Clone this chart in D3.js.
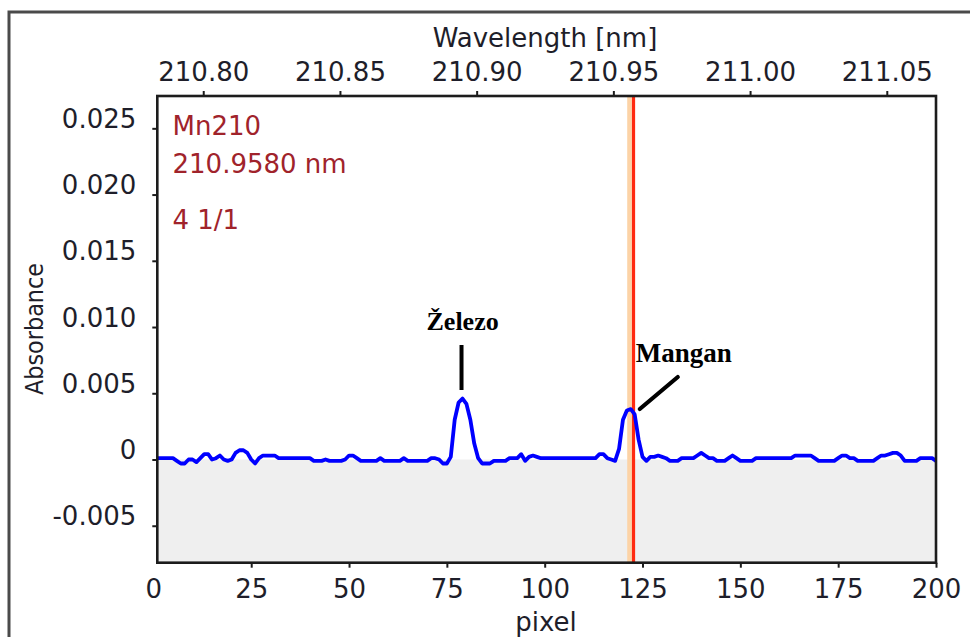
<!DOCTYPE html>
<html><head><meta charset="utf-8">
<script src="https://cdn.jsdelivr.net/npm/d3@7"></script>
<style>html,body{margin:0;padding:0;background:#fff;}svg{display:block;}</style>
</head><body>
<svg id="c" width="970" height="637"></svg>
<script>
// ---- data ----
const pixels = d3.range(1, 201);
const absorbance = [
 0.0001,0.0001,0.0001,0.0001,0.0001,-0.0001,-0.0003,-0.0003,0.0000,0.0000,
 -0.0002,0.0001,0.0004,0.0004,0.0000,0.0001,0.0003,0.0000,-0.0001,0.0000,
 0.0005,0.0007,0.0007,0.0005,0.0000,-0.0003,0.0001,0.0003,0.0003,0.0003,
 0.0003,0.0001,0.0001,0.0001,0.0001,0.0001,0.0001,0.0001,0.0001,0.0001,
 -0.0001,-0.0001,-0.0001,0.0000,-0.0001,-0.0001,-0.0001,-0.0001,0.0000,0.0003,
 0.0003,0.0001,-0.0001,-0.0001,-0.0001,-0.0001,-0.0001,0.0001,-0.0001,-0.0001,
 -0.0001,-0.0001,-0.0001,0.0001,-0.0001,-0.0001,-0.0001,-0.0001,-0.0001,-0.0001,
 0.0001,0.0001,0.0000,-0.0003,-0.0003,0.0002,0.0030,0.0043,0.0046,0.0042,
 0.0030,0.0012,0.0001,-0.0003,-0.0003,-0.0003,-0.0001,-0.0001,-0.0001,-0.0001,
 0.0001,0.0001,0.0001,0.0004,-0.0001,0.0002,0.0003,0.0002,0.0001,0.0001,
 0.0001,0.0001,0.0001,0.0001,0.0001,0.0001,0.0001,0.0001,0.0001,0.0001,
 0.0001,0.0001,0.0001,0.0004,0.0004,0.0001,0.0000,-0.0001,0.0008,0.0030,
 0.0037,0.0038,0.0034,0.0015,0.0002,-0.0001,0.0002,0.0002,0.0003,0.0002,
 0.0001,-0.0001,-0.0001,-0.0001,0.0001,0.0001,0.0001,0.0001,0.0003,0.0005,
 0.0003,0.0001,0.0001,-0.0001,-0.0001,-0.0001,0.0001,0.0003,0.0001,-0.0001,
 -0.0001,-0.0001,-0.0001,0.0001,0.0001,0.0001,0.0001,0.0001,0.0001,0.0001,
 0.0001,0.0001,0.0001,0.0003,0.0003,0.0003,0.0003,0.0003,0.0001,-0.0001,
 -0.0001,-0.0001,-0.0001,-0.0001,0.0001,0.0003,0.0003,0.0001,0.0001,-0.0001,
 -0.0001,-0.0001,-0.0001,-0.0001,0.0001,0.0003,0.0003,0.0004,0.0005,0.0005,
 0.0003,-0.0001,-0.0001,-0.0001,-0.0001,0.0001,0.0001,0.0001,0.0001,-0.0001
];
const pixelTicks = [0, 25, 50, 75, 100, 125, 150, 175, 200];
const wavelengthTicks = [210.80, 210.85, 210.90, 210.95, 211.00, 211.05];
const absorbanceTicks = [-0.005, 0, 0.005, 0.010, 0.015, 0.020, 0.025];
const infoLines = ["Mn210", "210.9580 nm", "4 1/1"];
const markerPixel = 122.7;
const peakLabels = [{text: "Železo", pixel: 79}, {text: "Mangan", pixel: 122}];

// ---- layout ----
const L = 157.3, R = 936, T = 96, B = 562.7;
const svg = d3.select("#c");
const x = d3.scaleLinear().domain([1, 200]).range([L, R]);
const xw = d3.scaleLinear().domain([210.7832, 211.068]).range([L, R]);
const y = d3.scaleLinear().domain([-0.00779, 0.02744]).range([B, T]);
const sans = "'DejaVu Sans', Verdana, sans-serif";
const serif = "'Liberation Serif', 'Times New Roman', serif";

// outer frame
svg.append("path").attr("d", `M9,640 L9,12 L975,12`).attr("fill", "none")
  .attr("stroke", "#4a4a4a").attr("stroke-width", 3);

// plot background and below-zero fill
svg.append("rect").attr("x", L).attr("y", T).attr("width", R - L).attr("height", B - T).attr("fill", "#fff");
svg.append("rect").attr("x", L).attr("y", y(0)).attr("width", R - L).attr("height", B - y(0)).attr("fill", "#efefef");

// marker line
const mx = x(markerPixel);
svg.append("rect").attr("x", mx - 6.3).attr("y", T).attr("width", 4.6).attr("height", B - T).attr("fill", "#fcd3a6");
svg.append("line").attr("x1", mx).attr("x2", mx).attr("y1", T).attr("y2", B)
  .attr("stroke", "#ff2a10").attr("stroke-width", 3.2);

// data line
const line = d3.line().x((d, i) => x(pixels[i])).y(d => y(d));
svg.append("path").datum(absorbance).attr("d", line).attr("fill", "none")
  .attr("stroke", "#0000ff").attr("stroke-width", 3.8).attr("stroke-linejoin", "round");

// frame of plot
svg.append("rect").attr("x", L).attr("y", T).attr("width", R - L).attr("height", B - T)
  .attr("fill", "none").attr("stroke", "#1c1c1c").attr("stroke-width", 2.6);

// axes
function styleAxis(g) {
  g.select(".domain").remove();
  g.selectAll(".tick line").attr("stroke", "#1c1c1c").attr("stroke-width", 2);
  g.selectAll(".tick text").attr("fill", "#1e1e2a").attr("font-family", sans).attr("font-size", 26);
}
const gx = svg.append("g").attr("transform", `translate(0,${B})`)
  .call(d3.axisBottom(x).tickValues(pixelTicks).tickSize(5).tickPadding(8).tickFormat(d3.format("d")))
  .call(styleAxis);
gx.selectAll(".tick").filter(d => d < 1).select("line").remove();
gx.selectAll(".tick text").attr("dy", 0).attr("y", 35);

const gt = svg.append("g").attr("transform", `translate(0,${T})`)
  .call(d3.axisTop(xw).tickValues(wavelengthTicks).tickSize(5).tickFormat(d3.format(".2f")))
  .call(styleAxis);
gt.selectAll(".tick text").attr("dy", 0).attr("y", -15);

const yfmt = d => d === 0 ? "0" : (d < 0 ? "-" : "") + d3.format(".3f")(Math.abs(d));
const gy = svg.append("g").attr("transform", `translate(${L},0)`)
  .call(d3.axisLeft(y).tickValues(absorbanceTicks).tickSize(5).tickFormat(yfmt))
  .call(styleAxis);
gy.selectAll(".tick text").attr("dy", 0).attr("y", -1).attr("x", -21);

// axis titles
svg.append("text").attr("x", 545).attr("y", 47).attr("text-anchor", "middle")
  .attr("font-family", sans).attr("font-size", 26).attr("fill", "#1e1e2a").text("Wavelength [nm]");
svg.append("text").attr("x", 546).attr("y", 631).attr("text-anchor", "middle")
  .attr("font-family", sans).attr("font-size", 26).attr("fill", "#1e1e2a").text("pixel");
svg.append("text").attr("transform", "translate(43,329) rotate(-90)").attr("text-anchor", "middle")
  .attr("font-family", sans).attr("font-size", 25).attr("fill", "#1e1e2a")
  .attr("textLength", 132).attr("lengthAdjust", "spacingAndGlyphs").text("Absorbance");

// info text
const infoY = [135, 173, 229];
svg.selectAll("text.info").data(infoLines).join("text").attr("class", "info")
  .attr("x", 172.5).attr("y", (d, i) => infoY[i])
  .attr("font-family", sans).attr("font-size", 26).attr("fill", "#a0232b").text(d => d);

// peak annotations
const fe = peakLabels[0], mn = peakLabels[1];
const feX = x(fe.pixel);
svg.append("text").attr("x", feX - 36).attr("y", 330).attr("font-family", serif)
  .attr("font-weight", "bold").attr("font-size", 26).attr("fill", "#000").text(fe.text);
svg.append("line").attr("x1", feX - 1).attr("x2", feX - 1).attr("y1", 345).attr("y2", 390)
  .attr("stroke", "#000").attr("stroke-width", 4);
const mnX = x(mn.pixel);
svg.append("text").attr("x", mnX + 5).attr("y", 362).attr("font-family", serif)
  .attr("font-weight", "bold").attr("font-size", 27).attr("fill", "#000").text(mn.text);
svg.append("line").attr("x1", mnX + 47).attr("y1", 377).attr("x2", mnX + 9).attr("y2", 409)
  .attr("stroke", "#000").attr("stroke-width", 4.2).attr("stroke-linecap", "round");
</script>
</body></html>
